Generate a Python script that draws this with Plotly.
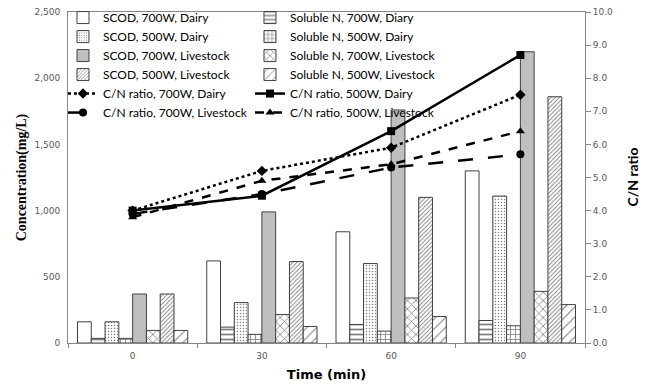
import plotly.graph_objects as go

times = ["0", "30", "60", "90"]

scod_700_dairy = [160, 620, 840, 1300]
soln_700_dairy = [35, 120, 140, 170]
scod_500_dairy = [160, 305, 600, 1110]
soln_500_dairy = [35, 65, 90, 130]
scod_700_live = [370, 990, 1760, 2200]
soln_700_live = [95, 215, 340, 390]
scod_500_live = [370, 615, 1100, 1860]
soln_500_live = [95, 125, 200, 290]

cn_700_dairy = [4.0, 5.2, 5.9, 7.5]
cn_500_dairy = [4.0, 4.45, 6.4, 8.7]
cn_700_live = [3.9, 4.5, 5.3, 5.7]
cn_500_live = [3.8, 4.9, 5.4, 6.4]

OUT = "#404040"

# name, values, fill, pattern shape, pattern size, solidity, legend
bars = [
    ("SCOD, 700W, Dairy", scod_700_dairy, "white", "", 8, 0.3, "legend"),
    ("Soluble N, 700W, Diary", soln_700_dairy, "white", "-", 5, 0.35, "legend2"),
    ("SCOD, 500W, Dairy", scod_500_dairy, "white", ".", 3, 0.2, "legend"),
    ("Soluble N, 500W, Dairy", soln_500_dairy, "white", "+", 5, 0.3, "legend2"),
    ("SCOD, 700W, Livestock", scod_700_live, "#bfbfbf", "", 8, 0.3, "legend"),
    ("Soluble N, 700W, Livestock", soln_700_live, "white", "x", 6, 0.25, "legend2"),
    ("SCOD, 500W, Livestock", scod_500_live, "white", "/", 3, 0.3, "legend"),
    ("Soluble N, 500W, Livestock", soln_500_live, "white", "/", 7, 0.15, "legend2"),
]

lines = [
    ("C/N ratio, 700W, Dairy", cn_700_dairy, "dot", "diamond", "legend"),
    ("C/N ratio, 500W, Dairy", cn_500_dairy, "solid", "square", "legend2"),
    ("C/N ratio, 700W, Livestock", cn_700_live, "longdash", "circle", "legend"),
    ("C/N ratio, 500W, Livestock", cn_500_live, "dash", "triangle-up", "legend2"),
]

fig = go.Figure()
for name, vals, fill, shape, size, sol, lg in bars:
    pattern = dict(shape=shape, fgcolor="black", bgcolor=fill, size=size, solidity=sol) if shape else None
    fig.add_trace(go.Bar(
        x=times, y=vals, name=name, legend=lg,
        marker=dict(color=fill, line=dict(color=OUT, width=1), pattern=pattern),
    ))
for name, vals, dash, sym, lg in lines:
    fig.add_trace(go.Scatter(
        x=times, y=vals, name=name, yaxis="y2", mode="lines+markers", legend=lg,
        line=dict(color="black", width=2.5, dash=dash),
        marker=dict(symbol=sym, size=8, color="black"),
    ))

tickfont = dict(family="DejaVu Sans", size=9, color="#595959")
legfont = dict(family="Lato", size=12, color="black")

fig.update_layout(
    width=639, height=378,
    margin=dict(l=60, r=62, t=4, b=43, autoexpand=False),
    paper_bgcolor="white", plot_bgcolor="white",
    barmode="group", bargap=0.147, bargroupgap=0,
    showlegend=True,
    legend=dict(
        orientation="v", x=-0.0097, y=1.027, xanchor="left", yanchor="top",
        traceorder="normal", font=legfont, bgcolor="rgba(0,0,0,0)", itemwidth=30,
    ),
    legend2=dict(
        orientation="v", x=0.352, y=1.027, xanchor="left", yanchor="top",
        traceorder="normal", font=legfont, bgcolor="rgba(0,0,0,0)", itemwidth=30,
    ),
    xaxis=dict(
        type="category", categoryorder="array", categoryarray=times,
        showline=True, linecolor="#868686", linewidth=1, mirror=True,
        ticks="outside", tickson="boundaries", ticklen=4, tickcolor="#868686",
        tickfont=tickfont, showgrid=False, ticklabelstandoff=4,
        title=dict(text="<b>Time (min)</b>", font=dict(family="DejaVu Sans", size=13, color="black"), standoff=10),
    ),
    yaxis=dict(
        range=[0, 2500], dtick=500, tickformat=",",
        showline=True, linecolor="#868686", linewidth=1, mirror=True,
        showgrid=False, zeroline=False, ticks="", ticklabelstandoff=5,
        ticklabeloverflow="allow",
        tickfont=tickfont,
        title=dict(text="<b>Concentration(mg/L)</b>", font=dict(family="Liberation Serif", size=14, color="black"), standoff=4),
    ),
    yaxis2=dict(
        range=[0, 10], dtick=1, tickformat=".1f", overlaying="y", side="right",
        showline=True, linecolor="#868686", linewidth=1,
        showgrid=False, zeroline=False, ticks="outside", ticklen=5, tickcolor="#868686",
        ticklabeloverflow="allow",
        tickfont=tickfont,
    ),
    annotations=[dict(
        text="<b>C/N ratio</b>", x=1.091, y=0.5, xref="paper", yref="paper",
        textangle=-90, showarrow=False, xanchor="center", yanchor="middle",
        font=dict(family="Lato", size=14, color="black"),
    )],
)

fig.write_html("out.html")
